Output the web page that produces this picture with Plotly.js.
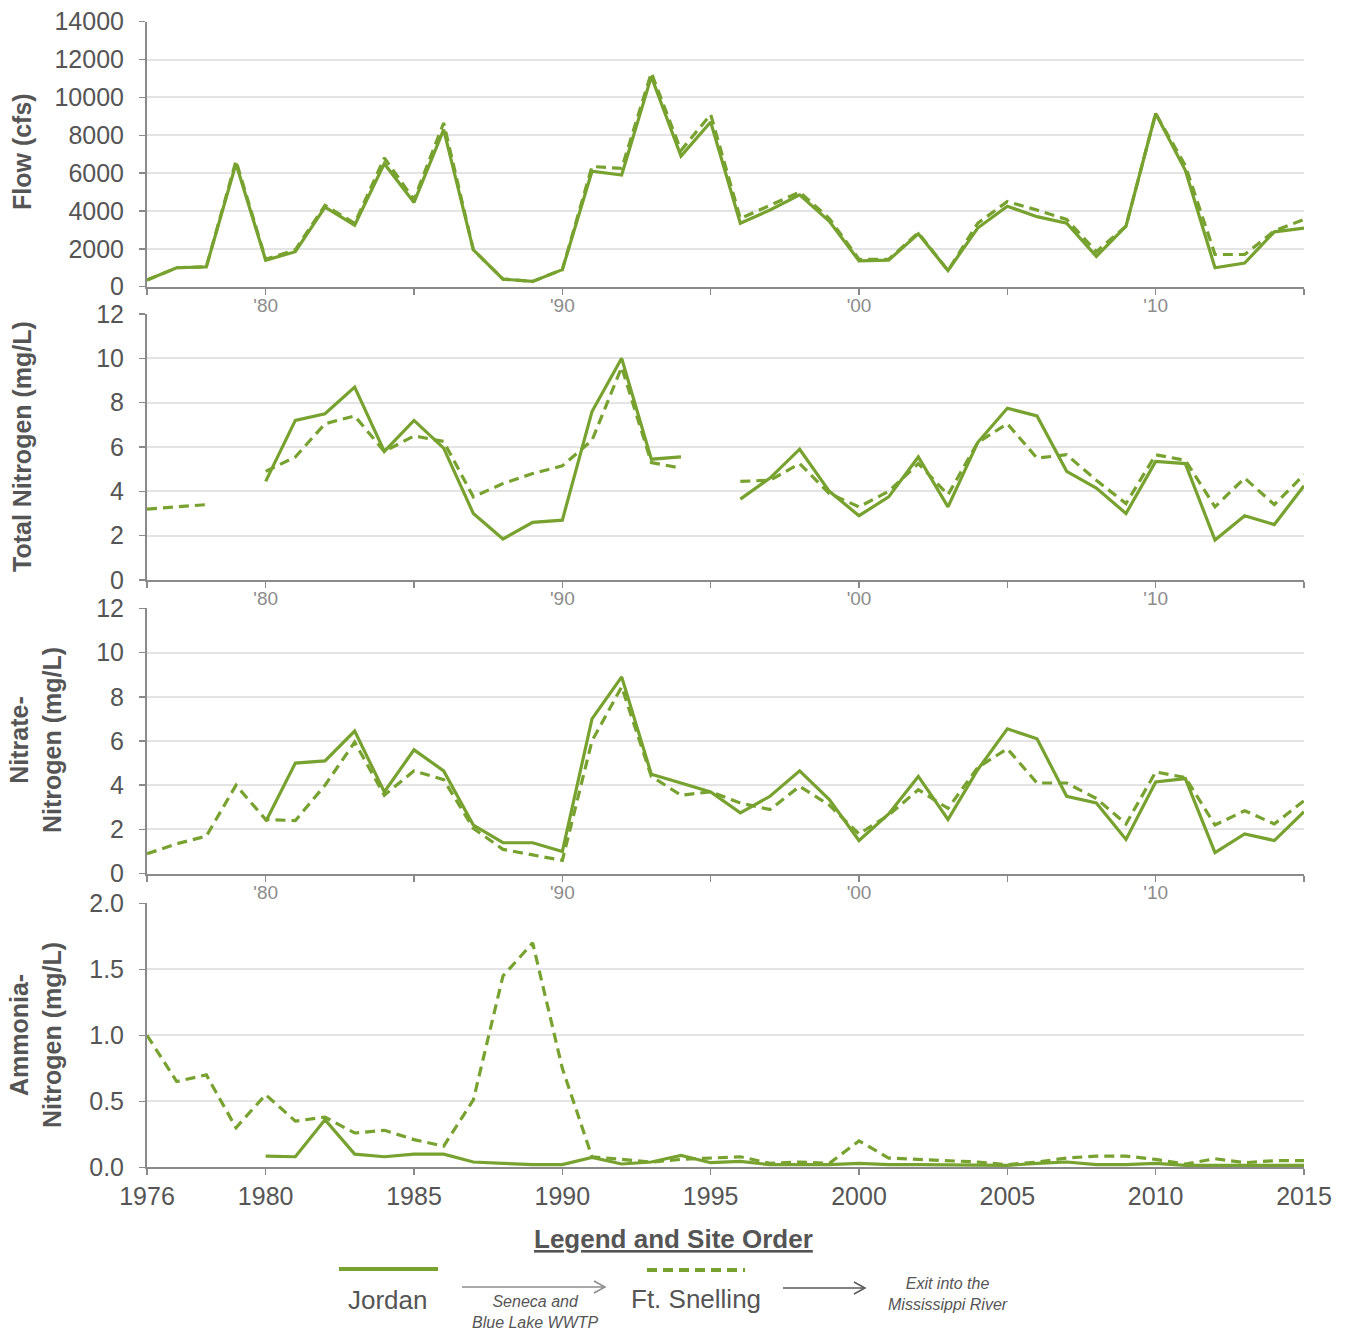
<!DOCTYPE html>
<html>
<head>
<meta charset="utf-8">
<script src="https://cdn.plot.ly/plotly-3.0.1.min.js"></script>
<style>html,body{margin:0;padding:0;background:#fff;}#chart{width:1347px;height:1330px;}</style>
</head>
<body>
<div id="chart"></div>
<script>
const years = [1976,1977,1978,1979,1980,1981,1982,1983,1984,1985,1986,1987,1988,1989,1990,1991,1992,1993,1994,1995,
               1996,1997,1998,1999,2000,2001,2002,2003,2004,2005,2006,2007,2008,2009,2010,2011,2012,2013,2014,2015];

const flowJordan = [350,1000,1050,6500,1400,1850,4200,3250,6500,4450,8300,1950,400,280,900,6100,5900,11100,6900,8700,
                    3350,4050,4850,3450,1370,1400,2800,850,3100,4250,3700,3350,1600,3200,9150,6150,1000,1250,2900,3100];
const flowFtSnelling = [350,1000,1050,6650,1450,1950,4300,3350,6800,4600,8650,1950,400,280,900,6350,6250,11300,7200,9100,
                    3600,4300,5000,3600,1450,1450,2850,850,3350,4500,4050,3550,1850,3200,9150,6400,1700,1700,2950,3550];

const tnJordan = [null,null,null,null,4.45,7.2,7.5,8.7,5.8,7.2,5.95,3.0,1.85,2.6,2.7,7.6,10.0,5.45,5.55,null,
                  3.65,4.6,5.9,4.0,2.9,3.75,5.55,3.3,6.2,7.75,7.4,4.9,4.15,3.0,5.35,5.25,1.8,2.9,2.5,4.25];
const tnFtSnelling = [3.2,3.3,3.4,null,4.9,5.55,7.05,7.4,5.8,6.5,6.25,3.75,4.35,4.8,5.15,6.3,9.6,5.3,5.05,null,
                  4.45,4.5,5.25,3.9,3.3,4.0,5.25,3.85,6.2,7.05,5.5,5.65,4.5,3.45,5.65,5.4,3.3,4.6,3.4,4.75];

const no3Jordan = [null,null,null,null,2.35,5.0,5.1,6.45,3.7,5.6,4.65,2.2,1.4,1.4,1.0,7.0,8.9,4.5,4.1,3.7,
                   2.75,3.5,4.65,3.35,1.5,2.7,4.4,2.45,4.7,6.55,6.1,3.5,3.2,1.55,4.15,4.3,0.95,1.8,1.5,2.8];
const no3FtSnelling = [0.9,1.35,1.7,4.0,2.45,2.4,4.0,5.95,3.55,4.65,4.25,2.05,1.1,0.85,0.6,6.0,8.45,4.4,3.55,3.7,
                   3.2,2.9,3.95,3.1,1.8,2.65,3.8,2.95,4.8,5.65,4.1,4.1,3.4,2.25,4.6,4.35,2.2,2.85,2.25,3.3];

const nh3Jordan = [null,null,null,null,0.085,0.08,0.36,0.1,0.08,0.1,0.1,0.04,0.03,0.02,0.02,0.075,0.025,0.04,0.09,0.035,
                   0.045,0.02,0.02,0.02,0.03,0.02,0.02,0.02,0.02,0.015,0.03,0.04,0.02,0.02,0.03,0.015,0.015,0.015,0.015,0.015];
const nh3FtSnelling = [1.0,0.65,0.7,0.3,0.55,0.35,0.38,0.26,0.28,0.21,0.16,0.51,1.45,1.7,0.75,0.08,0.06,0.04,0.06,0.07,
                   0.08,0.03,0.04,0.03,0.2,0.07,0.06,0.05,0.04,0.02,0.04,0.07,0.085,0.085,0.06,0.025,0.065,0.035,0.05,0.05];

const panelTitles = ['Flow (cfs)', 'Total Nitrogen (mg/L)', 'Nitrate-<br>Nitrogen (mg/L)', 'Ammonia-<br>Nitrogen (mg/L)'];
const shortTickText = ['', "'80", '', "'90", '', "'00", '', "'10", ''];
const bottomTickText = ['1976','1980','1985','1990','1995','2000','2005','2010','2015'];
const tickYears = [1976,1980,1985,1990,1995,2000,2005,2010,2015];

const GREEN = '#77a22f';
const TXT = '#555555';
const W = 1347, H = 1330;
const px = v => v / W;
const py = v => 1 - v / H;

const series = [
  [flowJordan, flowFtSnelling],
  [tnJordan, tnFtSnelling],
  [no3Jordan, no3FtSnelling],
  [nh3Jordan, nh3FtSnelling]
];

const traces = [];
series.forEach((pair, i) => {
  const xa = i === 0 ? 'x' : 'x' + (i + 1);
  const ya = i === 0 ? 'y' : 'y' + (i + 1);
  traces.push({x: years, y: pair[0], xaxis: xa, yaxis: ya, type: 'scatter', mode: 'lines',
               name: 'Jordan', showlegend: false, line: {color: GREEN, width: 3.2}});
  traces.push({x: years, y: pair[1], xaxis: xa, yaxis: ya, type: 'scatter', mode: 'lines',
               name: 'Ft. Snelling', showlegend: false, line: {color: GREEN, width: 3.2, dash: '10px,6px'}});
});

const yDomains = [[286.7, 21.7], [580, 314], [873.7, 608.3], [1167.3, 903.3]];
const yRanges = [[0, 14000], [0, 12], [0, 12], [0, 2]];
const yDticks = [2000, 2, 2, 0.5];

const layout = {
  width: W, height: H,
  margin: {l: 0, r: 0, t: 0, b: 0},
  paper_bgcolor: '#ffffff', plot_bgcolor: '#ffffff',
  font: {family: 'Liberation Sans, Arial, sans-serif', color: TXT},
  showlegend: false,
  shapes: [], annotations: []
};

for (let i = 0; i < 4; i++) {
  const sx = i === 0 ? '' : String(i + 1);
  const bottom = i === 3;
  layout['xaxis' + sx] = {
    domain: [px(147), px(1304)], anchor: 'y' + sx, range: [1976, 2015],
    tickmode: 'array', tickvals: tickYears, ticktext: bottom ? bottomTickText : shortTickText,
    ticks: 'outside', ticklen: 6, tickwidth: 1.5, tickcolor: '#8a8a8a',
    showline: true, linecolor: '#8a8a8a', linewidth: 2, showgrid: false, zeroline: false,
    tickfont: bottom ? {size: 25, color: TXT} : {size: 19, color: '#8c8c8c'},
    ticklabelstandoff: bottom ? 0 : -6, fixedrange: true
  };
  layout['yaxis' + sx] = {
    domain: [py(yDomains[i][0]), py(yDomains[i][1])], anchor: 'x' + sx,
    range: yRanges[i], dtick: yDticks[i], tick0: 0,
    tickformat: i === 3 ? '.1f' : 'd',
    ticks: 'outside', ticklen: 6, tickwidth: 1.5, tickcolor: '#8a8a8a',
    showline: true, linecolor: '#8a8a8a', linewidth: 2,
    showgrid: true, gridcolor: '#e4e4e4', gridwidth: 2, zeroline: false,
    tickfont: {size: 25, color: TXT}, ticklabelstandoff: 10, fixedrange: true
  };
}

// y-axis titles as rotated annotations
const titleY = [152, 447, 740, 1035];
panelTitles.forEach((t, i) => {
  layout.annotations.push({
    text: '<b>' + t + '</b>', textangle: -90, xref: 'paper', yref: 'paper',
    x: px(i >= 2 ? 35 : 22), y: py(titleY[i]), xanchor: 'center', yanchor: 'middle',
    showarrow: false, align: 'center', font: {size: 25, color: TXT}
  });
});

// Legend block
layout.annotations.push({
  text: '<b><u>Legend and Site Order</u></b>', xref: 'paper', yref: 'paper',
  x: px(674), y: py(1239), xanchor: 'center', yanchor: 'middle', showarrow: false,
  font: {size: 26, color: TXT}
});
layout.annotations.push({
  text: 'Jordan', xref: 'paper', yref: 'paper', x: px(388), y: py(1300),
  xanchor: 'center', yanchor: 'middle', showarrow: false, font: {size: 26, color: TXT}
});
layout.annotations.push({
  text: 'Ft. Snelling', xref: 'paper', yref: 'paper', x: px(696), y: py(1299),
  xanchor: 'center', yanchor: 'middle', showarrow: false, font: {size: 26, color: TXT}
});
layout.annotations.push({
  text: '<i>Seneca and<br>Blue Lake WWTP</i>', xref: 'paper', yref: 'paper', x: px(535), y: py(1312),
  xanchor: 'center', yanchor: 'middle', showarrow: false, align: 'center',
  font: {size: 16, color: TXT}
});
layout.annotations.push({
  text: '<i>Exit into the<br>Mississippi River</i>', xref: 'paper', yref: 'paper', x: px(948), y: py(1294),
  xanchor: 'center', yanchor: 'middle', showarrow: false, align: 'center',
  font: {size: 16, color: TXT}
});

layout.shapes.push(
  {type: 'line', xref: 'paper', yref: 'paper', x0: px(339), x1: px(438), y0: py(1269), y1: py(1269),
   line: {color: GREEN, width: 4}},
  {type: 'line', xref: 'paper', yref: 'paper', x0: px(647), x1: px(745), y0: py(1270), y1: py(1270),
   line: {color: GREEN, width: 4, dash: '10px,6px'}},
  {type: 'line', xref: 'paper', yref: 'paper', x0: px(462), x1: px(604), y0: py(1287), y1: py(1287),
   line: {color: '#8c8c8c', width: 1.5}},
  {type: 'path', xref: 'paper', yref: 'paper',
   path: `M ${px(594)} ${py(1281)} L ${px(605)} ${py(1287)} L ${px(594)} ${py(1293)}`,
   line: {color: '#8c8c8c', width: 1.5}},
  {type: 'line', xref: 'paper', yref: 'paper', x0: px(783), x1: px(864), y0: py(1288), y1: py(1288),
   line: {color: '#595959', width: 1.5}},
  {type: 'path', xref: 'paper', yref: 'paper',
   path: `M ${px(854)} ${py(1282)} L ${px(865)} ${py(1288)} L ${px(854)} ${py(1294)}`,
   line: {color: '#595959', width: 1.5}}
);

Plotly.newPlot('chart', traces, layout, {staticPlot: true, displayModeBar: false});
</script>
</body>
</html>
